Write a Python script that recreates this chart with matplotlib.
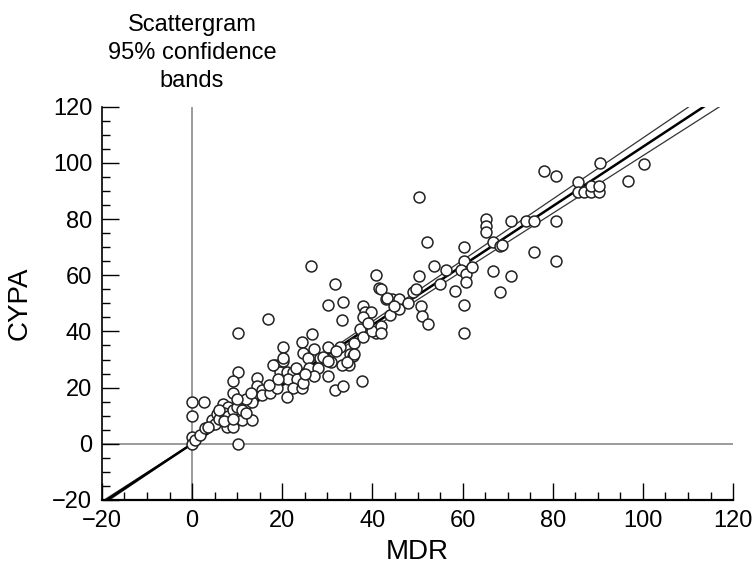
import matplotlib
matplotlib.use("Agg")
import matplotlib.pyplot as plt
import matplotlib.ticker as mtick
import numpy as np

# values (MDR vs CYPA)
mdr = [
    0, 0, 0, 0, 0.7, 1.8, 2.9, 2.7, 4.4, 5.6, 6.7, 8.4, 7.8, 9.1, 11.1, 13.3,
    6.9, 8, 11.1, 12.2, 13.3, 10.2, 10.2, 9.1, 9.1, 14.4, 14.4, 15.6, 15.6,
    17.3, 18.9, 10.2, 16.9,
    5, 6, 7, 8, 9, 10, 11, 12, 7, 3.5, 6, 9, 10, 13, 12,
    18.4, 20.2, 19.6, 21.1, 22.4, 21.3, 23.3, 22.4, 24.4, 21.1, 20.2, 24.4,
    24.7, 25.6, 26.7, 27, 28.4, 20.2, 18, 24.7, 26, 28, 23, 27, 25, 29, 17,
    19, 26.4, 30.2,
    30.2, 32.9, 35.1, 35.8, 34.7, 30.7, 31.6, 40.7, 41.4, 33.5, 33.3, 38,
    38.4, 39.6, 38, 40.7, 37.3, 43, 44.4, 45.8, 31.8, 33.5, 37.6, 30.2, 33.3,
    34.4, 30.2, 32, 36, 38, 40, 42, 44, 46, 48, 49, 41.8, 43.3, 44.7, 42, 36,
    39,
    50.4, 65.1, 65.1, 65.1, 70.7, 52.2, 60.2, 66.7, 68.4, 60.2, 53.6, 56.4,
    59.6, 66.7, 70.7, 50.4, 60.7, 60.7, 58.4, 68.4, 49.6, 50.7, 51, 52.4,
    60.2, 60.2, 78, 80.7, 90.5, 100.2, 96.6, 85.5, 85.5, 87, 88.4, 90.2, 88.4,
    90.2, 74, 75.9, 80.7, 68.8, 75.9, 80.7, 55, 62,
]
cypa = [
    15, 10, 2.5, 0, 1.5, 3, 5.5, 15, 8.5, 10.5, 9.5, 8, 6, 6, 8.5, 8.5,
    14, 13, 15, 14.5, 15, 0, 25.7, 22.5, 18, 23.5, 20.5, 19.3, 17.5,
    18, 20, 39.6, 44.5,
    7, 9, 11, 10, 12, 13, 12, 16, 8, 6, 12, 9, 16, 18, 11,
    28, 29.3, 25.5, 25.5, 25.7, 23, 23, 20, 20, 16.5, 34.6, 36.4,
    32.5, 30.7, 39, 33.6, 30.7, 30.7, 28.2, 21.8, 27, 27, 27, 24, 25, 31, 21,
    23, 63.2, 49.3,
    34.3, 34.3, 31.8, 31.4, 28.2, 29, 56.8, 60, 55.4, 50.4, 43.9, 49,
    47, 47, 45, 39.3, 41, 51.4, 51.4, 51.4, 19.3, 20.4, 22.5, 24.3, 28.2,
    29, 29.3, 33, 36, 38, 40, 42, 46, 48, 50, 54, 55, 52, 49, 39.6, 32,
    43,
    87.9, 80, 77.5, 75.4, 79.3, 71.8, 70, 71.8, 70.4, 65, 63.2, 61.8,
    61.8, 61.4, 59.6, 59.6, 60.4, 57.5, 54.3, 53.9, 55, 49, 45.4, 42.5,
    49.3, 39.6, 97, 95.4, 100, 99.6, 93.6, 93.2, 89.6, 89.6, 89.6, 89.6, 91.8,
    91.8, 79.3, 79.3, 79.3, 70.7, 68.2, 65, 57, 63,
]

ticks = [-20, 0, 20, 40, 60, 80, 100, 120]
T95 = 1.98

plt.rcParams["font.family"] = ["Liberation Sans", "DejaVu Sans"]

# least squares through the origin, with its 95% confidence band
x = np.array(mdr, dtype=float)
y = np.array(cypa, dtype=float)
n = len(x)
sxx = np.sum(x ** 2)
slope = np.sum(x * y) / sxx
resid = y - slope * x
s = np.sqrt(np.sum(resid ** 2) / (n - 1))

xs = np.linspace(-20, 120, 300)
fit = slope * xs
half = T95 * s * np.abs(xs) / np.sqrt(sxx)

fig = plt.figure(figsize=(7.55, 5.74), dpi=100)
ax = fig.add_axes([0.135, 0.129, 0.836, 0.685])

ax.axvline(0, color="#8a8a8a", lw=1.2, zorder=1)
ax.axhline(0, color="#8a8a8a", lw=1.2, zorder=1)

ax.plot(xs, fit + half, color="#333333", lw=0.9, zorder=2)
ax.plot(xs, fit - half, color="#333333", lw=0.9, zorder=2)
ax.plot(xs, fit, color="black", lw=1.8, zorder=3)

ax.scatter(x, y, s=62, facecolors="white", edgecolors="#222222",
           linewidths=1.1, zorder=4)

ax.set_xlim(-20, 120)
ax.set_ylim(-20, 120)
ax.set_xticks(ticks)
ax.set_yticks(ticks)
ax.xaxis.set_minor_locator(mtick.MultipleLocator(5))
ax.yaxis.set_minor_locator(mtick.MultipleLocator(5))
ax.tick_params(which="major", direction="in", length=12, width=1,
               labelsize=17, pad=7)
ax.tick_params(which="minor", direction="in", length=6, width=1)
for side in ["top", "right"]:
    ax.spines[side].set_visible(False)
ax.spines["left"].set_linewidth(1.2)
ax.spines["bottom"].set_linewidth(1.6)

ax.set_xlabel("MDR", fontsize=20, labelpad=5)
ax.set_ylabel("CYPA", fontsize=20, labelpad=14)

ax.text(0, 1.137, "Scattergram\n95% confidence\nbands",
        transform=ax.get_xaxis_transform(), ha="center", va="center",
        fontsize=17, linespacing=1.35)

fig.savefig("out.png", dpi=100)
